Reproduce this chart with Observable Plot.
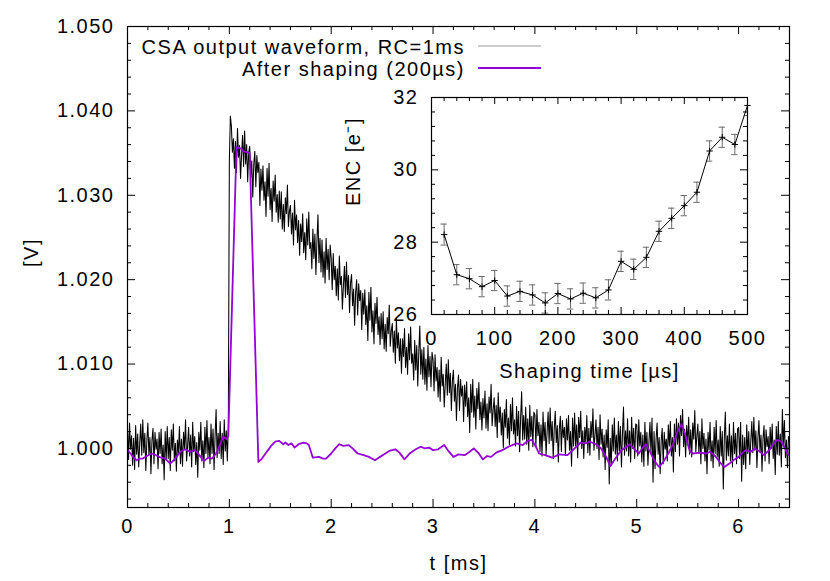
<!DOCTYPE html>
<html><head><meta charset="utf-8">
<script src="https://cdn.jsdelivr.net/npm/d3@7"></script>
<script src="https://cdn.jsdelivr.net/npm/@observablehq/plot@0.6"></script>
<style>
body{margin:0;background:#fff;}
#wrap{position:relative;width:830px;height:581px;background:#fff;}
#wrap svg{position:absolute;left:0;top:0;}
</style></head><body><div id="wrap"></div>
<script>
// ---------------- data ----------------
// CSA output waveform: samples every 0.01 ms from t = 0, in mV relative to 1 V
const csaStart = 0, csaStep = 0.01;
const csaMilliVolts = [
2.4,-1.3,3.0,-0.1,1.5,-2.0,1.2,-2.5,2.7,-0.7,
1.7,-2.2,0.6,2.9,-0.8,3.4,-0.5,1.8,-2.6,0.9,
3.0,-0.7,1.3,-3.0,0.9,2.4,-1.8,1.9,-0.1,1.1,
-2.4,1.9,-0.6,2.3,-1.8,0.4,-3.7,2.0,-1.3,2.6,
-1.2,1.3,-2.6,2.2,-0.2,2.9,-1.5,0.6,-2.7,1.0,
-0.6,2.6,-1.8,1.1,-2.1,1.9,0.0,3.4,-1.5,0.3,
2.5,-0.9,1.6,-2.2,3.1,-0.4,1.4,-1.9,0.7,-3.4,
1.9,-0.2,3.1,-1.5,0.9,-2.3,2.5,-0.6,3.3,-1.0,
1.3,-1.8,2.9,-0.6,2.3,-2.5,1.5,4.6,-1.1,1.8,
-0.6,3.2,-1.2,1.8,-1.9,3.4,-0.3,2.1,-1.5,2.6,
34.0,39.4,38.2,35.1,36.7,33.2,36.4,32.7,37.9,34.5,
35.9,32.0,34.8,37.1,33.4,37.6,33.7,36.0,31.6,35.1,
35.8,32.1,34.1,29.8,33.7,35.2,31.0,34.7,32.7,33.9,
28.8,33.1,30.6,33.5,29.4,31.6,27.5,33.2,29.9,33.8,
28.3,30.8,26.9,31.7,29.3,32.4,28.0,30.1,26.8,30.5,
27.2,30.4,26.0,28.9,25.7,29.7,27.8,31.2,26.3,28.1,
28.8,25.4,27.9,24.1,29.4,25.9,27.7,24.4,27.0,22.9,
26.6,24.5,27.8,23.2,25.6,22.4,27.2,24.1,28.0,23.7,
24.4,21.3,26.0,22.5,25.4,20.6,24.6,27.7,22.0,24.9,
20.9,24.7,20.3,23.3,19.6,24.9,21.2,23.6,20.0,24.1,
22.5,18.8,23.1,20.0,21.6,18.1,21.3,17.6,22.8,19.4,
20.4,16.5,19.3,21.6,17.9,22.1,18.2,20.5,16.1,19.6,
20.6,16.9,18.9,14.6,18.5,20.0,15.8,19.5,17.5,18.7,
14.1,18.4,15.9,18.8,14.7,16.9,12.8,18.5,15.2,19.1,
13.8,16.3,12.4,17.2,14.8,17.9,13.5,15.6,12.3,16.0,
13.0,16.2,11.8,14.7,11.5,15.5,13.6,17.0,12.1,13.9,
14.8,11.4,13.9,10.1,15.4,11.9,13.7,10.4,13.0,8.9,
13.0,10.9,14.2,9.6,12.0,8.8,13.6,10.5,14.4,10.1,
11.2,8.1,12.8,9.3,12.2,7.4,11.4,14.5,8.8,11.7,
8.2,12.0,7.6,10.6,6.9,12.2,8.5,10.9,7.3,11.4,
10.5,6.8,11.1,8.0,9.6,6.1,9.3,5.6,10.8,7.4,
8.8,4.9,7.7,10.0,6.3,10.5,6.6,8.9,4.5,8.0,
9.3,5.6,7.6,3.3,7.2,8.7,4.5,8.2,6.2,7.4,
3.2,7.5,5.0,7.9,3.8,6.0,1.9,7.6,4.3,8.2,
3.7,6.2,2.3,7.1,4.7,7.8,3.4,5.5,2.2,5.9,
3.6,6.8,2.4,5.3,2.1,6.1,4.2,7.6,2.7,4.5,
6.0,2.6,5.1,1.3,6.6,3.1,4.9,1.6,4.2,0.1,
4.6,2.5,5.8,1.2,3.6,0.4,5.2,2.1,6.0,1.7,
3.4,0.3,5.0,1.5,4.4,-0.4,3.6,6.7,1.0,3.9,
1.1,4.9,0.5,3.5,-0.2,5.1,1.4,3.8,0.2,4.3,
4.0,0.3,4.6,1.5,3.1,-0.4,2.8,-0.9,4.3,0.9,
3.1,-0.8,2.0,4.3,0.6,4.8,0.9,3.2,-1.2,2.3,
4.4,0.7,2.7,-1.6,2.3,3.8,-0.4,3.3,1.3,2.5,
-0.8,3.5,1.0,3.9,-0.2,2.0,-2.1,3.6,0.3,4.2,
0.3,2.8,-1.1,3.7,1.3,4.4,0.0,2.1,-1.2,2.5,
0.7,3.9,-0.5,2.4,-0.8,3.2,1.3,4.7,-0.2,1.6,
3.4,0.0,2.5,-1.3,4.0,0.5,2.3,-1.0,1.6,-2.5,
2.2,0.1,3.4,-4.2,1.2,-2.0,2.8,-0.3,3.6,-0.7,
1.6,-1.5,3.2,-0.3,2.6,-2.2,1.8,4.9,-0.8,2.1,
-0.3,3.5,-0.9,2.1,-1.6,3.7,0.0,2.4,-1.2,2.9,
2.8,-0.9,3.4,0.3,1.9,-1.6,1.6,-2.1,3.1,-0.3,
1.9,-2.0,0.8,3.1,-0.6,3.6,-4.0,2.0,-2.4,1.1,
3.0,-0.7,1.3,-3.0,0.9,2.4,-1.8,1.9,-0.1,1.1,
-1.5,2.8,0.3,3.2,-0.9,1.3,-2.8,2.9,-0.4,3.5,
0.5,3.0,-0.9,3.9,1.5,4.6,0.2,2.3,-1.0,2.7,
0.5,3.7,-0.7,2.2,-1.0,3.0,1.1,4.5,-0.4,1.4,
2.9,-0.5,2.0,-1.8,3.5,0.0,1.8,-1.5,1.1,-3.0,
1.9,-0.2,3.1,-1.5,0.9,-2.3,2.5,-0.6,3.3,-1.0,
1.0,-2.1,2.6,-0.9,2.0,-4.8,1.2,4.3,-1.4,1.5,
-0.9,2.9,-1.5,1.5,-2.2,3.1,-0.6,1.8,-1.8,2.3,
2.5,-1.2,3.1,-3.9,1.6,-1.9,1.3,-2.4,2.8,-0.6,
2.0,-1.9,0.9,3.2,-0.5,3.7,-0.2,2.1,-2.3,1.2,
3.3,-0.4,1.6,-2.7,1.2,2.7,-1.5,2.2,0.2,1.4,
-1.8,2.5,0.0,2.9,-1.2,1.0,-3.1,2.6,-0.7,3.2,
-0.8,1.7,-2.2,4.6,0.2,3.3,-1.1,1.0,-2.3,1.4,
0.8
];

// Shaped signal (200 µs): time [ms] and mV relative to 1 V
const shapedTimes = [0.00,0.03,0.06,0.09,0.12,0.15,0.19,0.24,0.28,0.33,0.37,0.42,0.46,0.50,0.53,0.57,0.61,0.66,0.70,0.75,0.79,0.83,0.87,0.90,0.94,0.97,0.99,1.07,1.10,1.12,1.14,1.17,1.20,1.285,1.32,1.35,1.38,1.41,1.45,1.49,1.53,1.55,1.58,1.61,1.64,1.68,1.73,1.76,1.78,1.82,1.88,1.92,1.95,2.00,2.04,2.08,2.12,2.17,2.21,2.26,2.32,2.37,2.43,2.48,2.52,2.57,2.63,2.67,2.72,2.77,2.83,2.88,2.92,2.96,3.00,3.05,3.11,3.15,3.20,3.25,3.31,3.36,3.40,3.45,3.49,3.53,3.57,3.62,3.68,3.74,3.82,3.88,3.93,3.97,4.01,4.04,4.10,4.17,4.24,4.32,4.38,4.45,4.50,4.54,4.60,4.65,4.70,4.74,4.79,4.85,4.89,4.93,4.97,5.02,5.06,5.09,5.13,5.18,5.22,5.26,5.31,5.36,5.40,5.44,5.48,5.52,5.55,5.62,5.68,5.72,5.77,5.82,5.86,5.91,5.96,6.00,6.04,6.07,6.12,6.16,6.20,6.25,6.30,6.34,6.38,6.42,6.46,6.49];
const shapedMilliVolts = [-0.2,-0.6,-1.1,-1.4,-1.2,-1.2,-0.9,-0.6,-0.8,-1.1,-1.2,-1.8,-1.3,-0.7,-0.3,-0.1,-0.4,-0.2,-0.7,-1.5,-1.1,-1.2,-0.6,0.2,1.4,1.1,1.5,35.7,35.6,35.5,35.2,35.1,35.0,-1.6,-1.2,-0.7,-0.2,0.3,0.8,0.9,0.5,0.7,0.4,0.6,0.1,0.5,0.7,0.6,0.4,-1.1,-1.0,-1.2,-1.2,-0.6,0.0,0.5,0.3,0.4,0.0,-0.6,-0.8,-1.0,-1.4,-1.0,-0.7,-0.3,-0.1,-0.5,-1.3,-0.6,-0.1,0.2,0.0,0.1,-0.2,-0.1,0.4,-0.3,-1.0,-0.7,-0.8,-0.4,0.0,-0.6,-1.3,-0.9,-1.0,-0.5,-0.2,0.2,0.6,0.4,0.9,1.0,0.2,-0.6,-0.8,-1.1,-0.7,-0.8,-0.1,0.7,0.6,0.8,0.5,0.0,-1.0,-2.1,-1.2,-0.2,0.1,0.5,0.0,-0.6,0.1,0.5,-0.4,-1.6,-2.2,-1.6,-0.6,0.6,2.0,2.9,1.5,-0.3,-0.6,-0.5,-0.6,-0.4,-0.9,-1.7,-2.2,-1.8,-1.3,-1.0,-0.5,-0.2,-0.4,0.0,-0.3,-0.8,-0.2,0.5,1.0,0.8,-0.1,-0.8];

// Inset: ENC vs shaping time
const encShapingTimes = [20,40,60,80,100,120,140,160,180,200,220,240,260,280,300,320,340,360,380,400,420,440,460,480,500];
const encValues = [28.21,27.10,26.99,26.77,26.94,26.51,26.64,26.54,26.32,26.58,26.43,26.59,26.46,26.68,27.47,27.25,27.58,28.30,28.66,29.01,29.38,30.52,30.90,30.70,31.78];
const encErrors = [0.29,0.28,0.28,0.28,0.28,0.28,0.28,0.28,0.28,0.28,0.28,0.28,0.28,0.28,0.28,0.28,0.28,0.28,0.28,0.28,0.28,0.28,0.28,0.28,0.28];

// Ticks and labels
const mainXTicks = [0,1,2,3,4,5,6];
const mainYTicks = [1.000,1.010,1.020,1.030,1.040,1.050];
const insetXTicks = [0,100,200,300,400,500];
const insetYTicks = [26,28,30,32];
const mainXLabel = "t [ms]";
const mainYLabel = "[V]";
const insetXLabel = "Shaping time [µs]";
const insetYLabel = "ENC [e⁻]";
const legendLabels = ["CSA output waveform, RC=1ms", "After shaping (200µs)"];

// ---------------- build ----------------
const W = 830, H = 581;
const FONT = "'Liberation Sans', Arial, Helvetica, sans-serif";
const FS = 20;
const baseStyle = {fontFamily: FONT, fontSize: FS + "px", letterSpacing: "1.5px", background: "transparent", overflow: "visible", color: "black"};
const PURPLE = "#9400d3";

const csa = csaMilliVolts.map((mv, i) => ({t: csaStart + i * csaStep, v: 1 + mv / 1000}));
const shaped = shapedTimes.map((t, i) => ({t, v: 1 + shapedMilliVolts[i] / 1000}));
const enc = encShapingTimes.map((t, i) => ({t, v: encValues[i], e: encErrors[i]}));

function frameTicks(xMaj, xMin, yMaj, yMin, pw, ph, big, small) {
  const s = {stroke: "black", strokeWidth: 1};
  return [
    Plot.tickX(xMaj, {x: d => d, insetTop: ph - big, ...s}),
    Plot.tickX(xMaj, {x: d => d, insetBottom: ph - big, ...s}),
    Plot.tickX(xMin, {x: d => d, insetTop: ph - small, ...s}),
    Plot.tickX(xMin, {x: d => d, insetBottom: ph - small, ...s}),
    Plot.tickY(yMaj, {y: d => d, insetRight: pw - big, ...s}),
    Plot.tickY(yMaj, {y: d => d, insetLeft: pw - big, ...s}),
    Plot.tickY(yMin, {y: d => d, insetRight: pw - small, ...s}),
    Plot.tickY(yMin, {y: d => d, insetLeft: pw - small, ...s})
  ];
}

// Main panel
const mT = 26, mB = 74, mL = 127, mR = 41;
const pw = W - mL - mR, ph = H - mT - mB;
const xMinor = d3.range(1, 33).map(i => i * 0.2).filter(v => Math.abs(v - Math.round(v)) > 1e-6);
const yMinor = d3.range(0, 28).map(i => 0.994 + i * 0.002).filter(v => Math.abs(v * 100 - Math.round(v * 100)) > 1e-6);

const main = Plot.plot({
  width: W, height: H,
  marginTop: mT, marginBottom: mB, marginLeft: mL, marginRight: mR,
  style: baseStyle,
  x: {domain: [0, 6.5]},
  y: {domain: [0.993, 1.05]},
  marks: [
    Plot.line(csa, {x: "t", y: "v", stroke: "#000", strokeWidth: 1.05, clip: true}),
    Plot.line(shaped, {x: "t", y: "v", stroke: PURPLE, strokeWidth: 1.8, clip: true}),
    ...frameTicks(mainXTicks, xMinor, mainYTicks, yMinor, pw, ph, 8, 4),
    Plot.frame({stroke: "black", strokeWidth: 1.2}),
    Plot.axisX(mainXTicks, {tickSize: 0, tickPadding: 11, label: null, fontSize: FS}),
    Plot.axisY(mainYTicks, {tickSize: 0, tickPadding: 13, tickFormat: d3.format(".3f"), label: null, fontSize: FS}),
    Plot.text([mainXLabel], {text: d => d, frameAnchor: "bottom", dy: 62, fontSize: FS}),
    Plot.text([mainYLabel], {text: d => d, frameAnchor: "left", dx: -96, rotate: -90, fontSize: FS})
  ]
});

// Legend (layout in pixels)
const lg = d3.select(main).append("g").attr("font-family", FONT).attr("font-size", FS);
const legendRows = [{label: legendLabels[0], stroke: "#999", w: 1}, {label: legendLabels[1], stroke: PURPLE, w: 1.8}];
legendRows.forEach((r, i) => {
  const y = 47 + i * 22;
  lg.append("text").attr("x", 465).attr("y", y).attr("dy", "0.35em").attr("text-anchor", "end").text(r.label);
  lg.append("line").attr("x1", 478).attr("x2", 541).attr("y1", y - 1).attr("y2", y - 1).attr("stroke", r.stroke).attr("stroke-width", r.w);
});

// Inset panel
const iT = 97, iB = H - 314, iL = 431, iR = W - 747;
const ipw = W - iL - iR, iph = H - iT - iB;
const ixMinor = d3.range(1, 25).map(i => i * 20).filter(v => v % 100 !== 0);
const iyMinor = d3.range(1, 15).map(i => 26 + i * 0.4).filter(v => Math.abs(v / 2 - Math.round(v / 2)) > 1e-6);

const inset = Plot.plot({
  width: W, height: H,
  marginTop: iT, marginBottom: iB, marginLeft: iL, marginRight: iR,
  style: baseStyle,
  x: {domain: [0, 500]},
  y: {domain: [26, 32]},
  marks: [
    Plot.ruleX(enc, {x: "t", y1: d => d.v - d.e, y2: d => d.v + d.e, stroke: "#6a6a6a", strokeWidth: 1, clip: true}),
    Plot.ruleY(enc, {y: d => d.v + d.e, x1: d => d.t - 5, x2: d => d.t + 5, stroke: "#6a6a6a", strokeWidth: 1, clip: true}),
    Plot.ruleY(enc, {y: d => d.v - d.e, x1: d => d.t - 5, x2: d => d.t + 5, stroke: "#6a6a6a", strokeWidth: 1, clip: true}),
    Plot.line(enc, {x: "t", y: "v", stroke: "black", strokeWidth: 1}),
    Plot.dot(enc, {x: "t", y: "v", symbol: "plus", r: 2.2, stroke: "black", strokeWidth: 1}),
    ...frameTicks(insetXTicks, ixMinor, insetYTicks, iyMinor, ipw, iph, 7, 4),
    Plot.frame({stroke: "black", strokeWidth: 1.2}),
    Plot.axisX(insetXTicks, {tickSize: 0, tickPadding: 16, label: null, fontSize: FS}),
    Plot.axisY(insetYTicks, {tickSize: 0, tickPadding: 13, label: null, fontSize: FS}),
    Plot.text([insetXLabel], {text: d => d, frameAnchor: "bottom", dy: 63, fontSize: FS}),
    Plot.text([insetYLabel], {text: d => d, frameAnchor: "left", dx: -78, rotate: -90, fontSize: FS})
  ]
});

const wrap = document.getElementById("wrap");
wrap.appendChild(main);
wrap.appendChild(inset);
</script>
</body></html>
